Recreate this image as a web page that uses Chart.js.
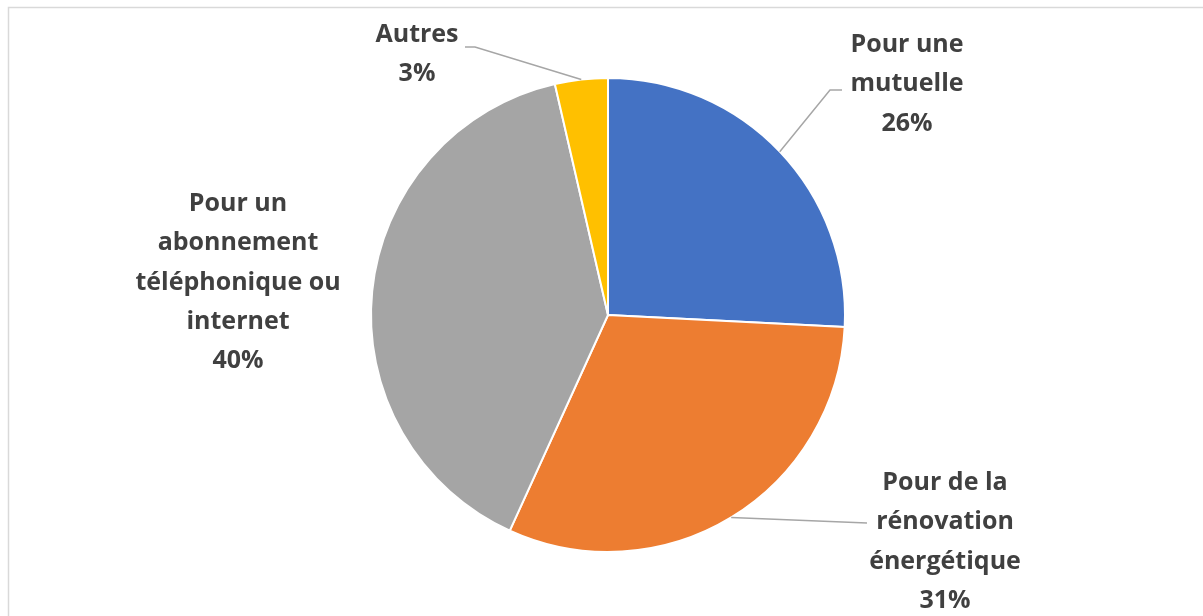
<!DOCTYPE html>
<html>
<head>
<meta charset="utf-8">
<script src="https://cdn.jsdelivr.net/npm/chart.js@4.4.1/dist/chart.umd.min.js"></script>
<style>
  html, body { margin: 0; padding: 0; background: #fff; }
  #wrap { position: relative; width: 1203px; height: 616px; }
</style>
</head>
<body>
<div id="wrap"><canvas id="pieChart" width="1203" height="616"></canvas></div>
<script>
// Data (clockwise from 12 o'clock)
const categories = [
    ["Pour une", "mutuelle"],
    ["Pour de la", "rénovation", "énergétique"],
    ["Pour un", "abonnement", "téléphonique ou", "internet"],
    ["Autres"]
];
const shares = [25.8, 31.0, 39.6, 3.6];
const shareLabels = ["26%", "31%", "40%", "3%"];
const sliceColors = ["#4472c4", "#ed7d31", "#a5a5a5", "#ffc000"];

// Where each label block sits, relative to the pie centre (dx, dy of first line)
// plus the elbow of its leader line
const labelSpots = [
    { dx: 299, dy: -270, elbow: [[222, -225], [234, -225]] },
    { dx: 337, dy: 168, elbow: [[259, 208]] },
    { dx: -370, dy: -111, elbow: null },
    { dx: -191, dy: -280, elbow: [[-133, -268], [-143, -268]] }
];

const textColor = "#404040";
const lineColor = "#a6a6a6";
const labelFont = "bold 25px 'Open Sans'";
const lineHeight = 39.2;

// Frame around the chart area, like the spreadsheet export
const framePlugin = {
    id: 'frame',
    beforeDraw(chart) {
        const ctx = chart.ctx;
        ctx.save();
        ctx.strokeStyle = "#d9d9d9";
        ctx.lineWidth = 1.5;
        ctx.beginPath();
        ctx.moveTo(8.5, chart.height + 5);
        ctx.lineTo(8.5, 7.5);
        ctx.lineTo(chart.width + 5, 7.5);
        ctx.stroke();
        ctx.restore();
    }
};

// Labels with leader lines
const labelPlugin = {
    id: 'pieLabels',
    afterDatasetsDraw(chart) {
        const ctx = chart.ctx;
        const meta = chart.getDatasetMeta(0);
        ctx.save();
        meta.data.forEach((arc, i) => {
            const spot = labelSpots[i];
            const cx = arc.x, cy = arc.y;
            const mid = (arc.startAngle + arc.endAngle) / 2;
            const r = arc.outerRadius;
            const ax = cx + Math.cos(mid) * r;
            const ay = cy + Math.sin(mid) * r;

            if (spot.elbow) {
                ctx.strokeStyle = lineColor;
                ctx.lineWidth = 1.5;
                ctx.beginPath();
                ctx.moveTo(ax, ay);
                spot.elbow.forEach(p => ctx.lineTo(cx + p[0], cy + p[1]));
                ctx.stroke();
            }

            const lines = categories[i].concat([shareLabels[i]]);
            ctx.fillStyle = textColor;
            ctx.font = labelFont;
            ctx.textAlign = "center";
            ctx.textBaseline = "middle";
            lines.forEach((t, k) => {
                ctx.fillText(t, cx + spot.dx, cy + spot.dy + k * lineHeight);
            });
        });
        ctx.restore();
    }
};

new Chart(document.getElementById('pieChart'), {
    type: 'pie',
    data: {
        labels: categories.map(c => c.join(" ")),
        datasets: [{
            data: shares,
            backgroundColor: sliceColors,
            borderColor: "#ffffff",
            borderWidth: 2
        }]
    },
    options: {
        responsive: false,
        animation: false,
        layout: { padding: { left: 370, right: 357, top: 77, bottom: 63 } },
        plugins: {
            legend: { display: false },
            tooltip: { enabled: false }
        }
    },
    plugins: [framePlugin, labelPlugin]
});
</script>
</body>
</html>
